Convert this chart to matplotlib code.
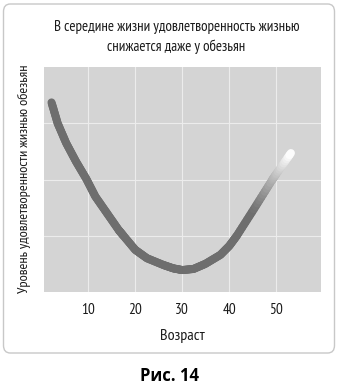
import numpy as np
import matplotlib
matplotlib.use("Agg")
from matplotlib import pyplot as plt
from matplotlib.collections import LineCollection
from matplotlib.patches import FancyBboxPatch

# curve: age vs life satisfaction
age = [2.2, 3.5, 5.3, 7.4, 9.6, 11.5, 14.0, 16.5, 17.5, 20.0, 22.5, 26.0, 28.1, 30.0,
       32.4, 34.9, 38.1, 40.0, 41.6, 45.2, 49.1, 50.0, 53.1]
satisfaction = [3.37, 3.00, 2.65, 2.32, 2.01, 1.70, 1.40, 1.10, 1.00, 0.75, 0.60, 0.48, 0.42, 0.39,
                0.41, 0.50, 0.66, 0.82, 1.00, 1.47, 1.99, 2.10, 2.47]
xticks = [10, 20, 30, 40, 50]
title = "В середине жизни удовлетворенность жизнью\nснижается даже у обезьян"
xlabel = "Возраст"
ylabel = "Уровень удовлетворенности жизнью обезьян"
caption = "Рис. 14"

narrow = ["PT Sans Narrow", "Roboto Condensed", "Fira Sans Extra Condensed", "DejaVu Sans"]

fig = plt.figure(figsize=(3.38, 3.85), dpi=100)

# rounded frame around the chart
frame = FancyBboxPatch((3.5 / 338, 1 - 353 / 385), 331 / 338, 349 / 385,
                       boxstyle="round,pad=0,rounding_size=0.02",
                       transform=fig.transFigure, facecolor="white",
                       edgecolor="#c8c8c8", linewidth=1.0, zorder=-5)
fig.patches.append(frame)

ax = fig.add_axes([44 / 338, 93 / 385, 277 / 338, 225 / 385])
ax.set_facecolor("#d4d4d4")
ax.set_xlim(0.6, 59.5)
ax.set_ylim(0, 4)
ax.set_xticks(xticks)
ax.set_yticks([1, 2, 3])
ax.set_yticklabels([])
ax.grid(True, color="#ececec", linewidth=0.8)
ax.set_axisbelow(True)
ax.tick_params(length=0, pad=8)
for s in ax.spines.values():
    s.set_visible(False)
for lab in ax.get_xticklabels():
    lab.set_family(narrow)
    lab.set_fontsize(11)
    lab.set_color("#1a1a1a")

# split the polyline into short pieces so the tail can fade to white
xs, ys = [], []
for i in range(len(age) - 1):
    t = np.linspace(0, 1, 10, endpoint=False)
    xs.extend(age[i] + (age[i + 1] - age[i]) * t)
    ys.extend(satisfaction[i] + (satisfaction[i + 1] - satisfaction[i]) * t)
xs.append(age[-1])
ys.append(satisfaction[-1])
pts = np.column_stack([xs, ys]).reshape(-1, 1, 2)
segs = np.concatenate([pts[:-1], pts[1:]], axis=1)
mid = (np.array(xs[:-1]) + np.array(xs[1:])) / 2
fade = np.clip((mid - 45.0) / (53.1 - 45.0), 0, 1) ** 1.2
gray = 0.43 + (1.0 - 0.43) * fade
cols = [(g, g, g, 1.0) for g in gray]
lc = LineCollection(segs, colors=cols, linewidths=5.8, capstyle="round", joinstyle="round")
ax.add_collection(lc)

fig.text(176.5 / 338, 1 - 37 / 385, title, ha="center", va="center",
         fontsize=10.8, family=narrow, linespacing=1.45, color="#1a1a1a")
fig.text(24 / 338, 1 - 179 / 385, ylabel, ha="center", va="center",
         rotation=90, fontsize=10.3, family=narrow, color="#1a1a1a")
fig.text(182 / 338, 1 - 336 / 385, xlabel, ha="center", va="center",
         fontsize=11.5, family=narrow, color="#1a1a1a")
fig.text(169 / 338, 1 - 376 / 385, caption, ha="center", va="center",
         fontsize=12, fontweight="bold", family=["Open Sans", "DejaVu Sans"])

fig.savefig("out.png", dpi=100)
